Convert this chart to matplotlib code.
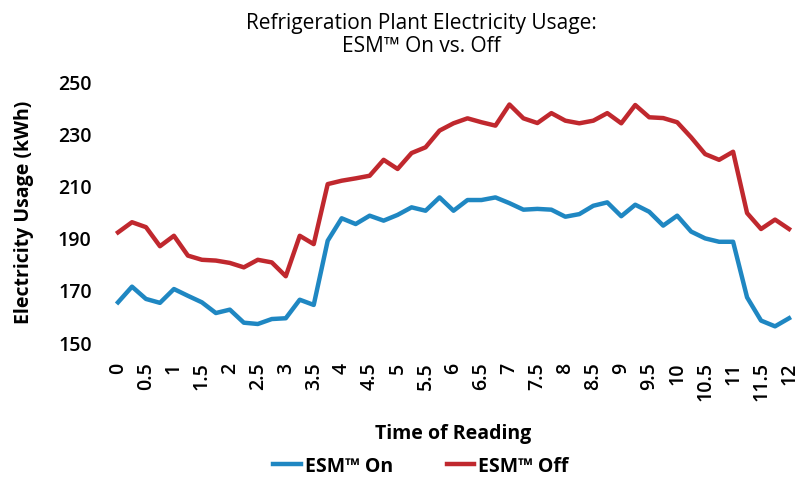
import matplotlib
matplotlib.use("Agg")
import matplotlib.pyplot as plt
import numpy as np

plt.rcParams['font.family'] = ['Open Sans', 'DejaVu Sans']

# Time of reading (hours), one reading every 15 minutes
times = [i * 0.25 for i in range(49)]

esm_on = [165.2, 171.2, 166.5, 165.0, 170.3, 167.7, 165.2, 161.1, 162.4, 157.4,
          156.9, 158.8, 159.1, 166.2, 164.2, 188.8, 197.4, 195.2, 198.4, 196.5,
          198.7, 201.6, 200.3, 205.4, 200.3, 204.4, 204.4, 205.4, 203.2, 200.7,
          201.0, 200.7, 198.0, 199.0, 202.2, 203.5, 198.2, 202.6, 199.9, 194.6,
          198.4, 192.3, 189.7, 188.4, 188.4, 167.1, 158.2, 156.0, 159.1]

esm_off = [192.0, 195.9, 194.0, 186.7, 190.7, 183.1, 181.5, 181.2, 180.3, 178.6,
           181.5, 180.5, 175.2, 190.7, 187.5, 210.5, 211.8, 212.7, 213.7, 219.8,
           216.3, 222.4, 224.6, 231.0, 233.8, 235.7, 234.2, 232.9, 241.0, 235.7,
           233.9, 237.7, 234.8, 233.8, 234.8, 237.7, 233.8, 240.8, 236.1, 235.8,
           234.2, 228.4, 222.0, 219.8, 222.9, 199.4, 193.3, 196.9, 193.3]

xtick_vals = [i * 0.5 for i in range(25)]
xtick_labels = ['0' if v == 0 else (str(int(v)) if v == int(v) else str(v)) for v in xtick_vals]
ytick_vals = [150, 170, 190, 210, 230, 250]

blue = '#1f87c2'
red = '#c0282e'

fig = plt.figure(figsize=(7.99, 4.81), dpi=100)
ax = fig.add_axes([0.1477, 0.2869, 0.8398, 0.5426])

ax.plot(times, esm_on, color=blue, lw=3.2, label='ESM™ On', clip_on=False,
        solid_joinstyle='round')
ax.plot(times, esm_off, color=red, lw=3.2, label='ESM™ Off', clip_on=False,
        solid_joinstyle='round')

ax.set_xlim(0, 12)
ax.set_ylim(150, 250)
ax.set_xticks(xtick_vals)
ax.set_xticklabels(xtick_labels, rotation=90, fontsize=14, fontweight=600)
ax.set_yticks(ytick_vals)
ax.set_yticklabels([str(v) for v in ytick_vals], fontsize=14, fontweight=600)
ax.tick_params(axis='x', length=0, pad=14)
ax.tick_params(axis='y', length=0, pad=19)
for s in ax.spines.values():
    s.set_visible(False)

ax.set_ylabel('Electricity Usage (kWh)', fontsize=14, fontweight='bold', labelpad=17)
ax.set_xlabel('Time of Reading', fontsize=14, fontweight='bold', labelpad=16)

fig.text(0.527, 0.952, 'Refrigeration Plant Electricity Usage:', ha='center', va='center', fontsize=15)
fig.text(0.527, 0.904, 'ESM™ On vs. Off', ha='center', va='center', fontsize=15)

leg = fig.legend(loc='center', bbox_to_anchor=(0.527, 0.03), ncol=2, frameon=False,
                 prop={'size': 14, 'weight': 'bold'}, handlelength=1.4,
                 handletextpad=0.2, columnspacing=2.8)

fig.savefig('out.png', dpi=100)
